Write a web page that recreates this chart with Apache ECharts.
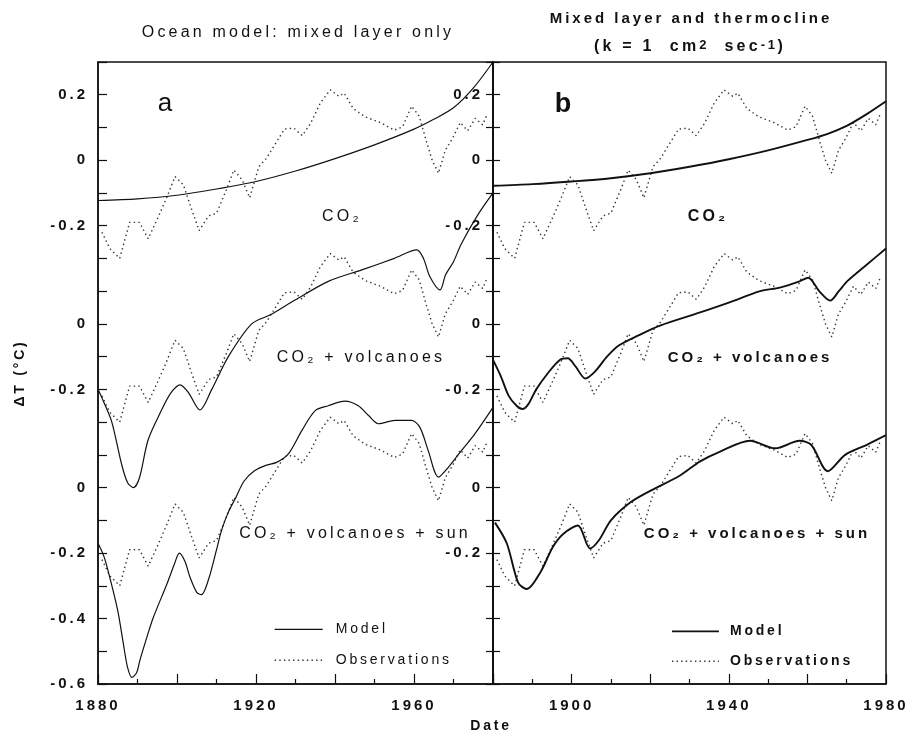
<!DOCTYPE html>
<html><head><meta charset="utf-8">
<script src="https://cdn.jsdelivr.net/npm/echarts@6/dist/echarts.min.js"></script>
<style>html,body{margin:0;padding:0;background:#fff}#c{width:915px;height:736px}</style>
</head><body><div id="c"></div>
<script>
// ---------- DATA (°C) ----------
const obsYears = [1881,1883,1885.5,1888,1890.5,1892.7,1895,1897.2,1899.5,1901.6,1903.7,1905.6,1908,1910,1912.6,1914.4,1916.5,1918.4,1920.7,1922.6,1924.9,1927.2,1929.6,1931.7,1933.8,1936.3,1938.8,1941,1942.3,1944.6,1947.7,1951.5,1955,1957.1,1959.4,1961.3,1963.2,1964.6,1966.2,1967.9,1969.8,1971.7,1973.6,1975.5,1977.4,1978.5];
const obsValues = [-0.22,-0.27,-0.30,-0.19,-0.19,-0.24,-0.18,-0.12,-0.05,-0.075,-0.15,-0.215,-0.17,-0.162,-0.087,-0.03,-0.06,-0.115,-0.02,0.005,0.05,0.095,0.098,0.075,0.112,0.175,0.215,0.195,0.205,0.158,0.132,0.115,0.092,0.102,0.165,0.135,0.055,0.0,-0.04,0.03,0.068,0.115,0.09,0.128,0.108,0.14];

// Panel a: mixed layer only
const co2YearsA = [1880,1890,1900,1910,1920,1930,1940,1950,1960,1965,1970,1975,1980];
const co2ValuesA = [-0.123,-0.118,-0.107,-0.088,-0.065,-0.033,0.005,0.047,0.095,0.125,0.16,0.22,0.30];
const volcYearsA = [1880,1881.5,1883.5,1886,1887.5,1889,1890.5,1892.7,1896.1,1898.5,1900.8,1902.9,1905.8,1908.8,1913,1918.9,1923.5,1929.9,1938.3,1946.8,1955,1960.7,1962.4,1964,1966.6,1968,1970,1972,1976,1980];
const volcValuesA = [-0.20,-0.24,-0.30,-0.43,-0.485,-0.50,-0.47,-0.354,-0.263,-0.21,-0.186,-0.21,-0.263,-0.20,-0.10,0.0,0.027,0.073,0.13,0.165,0.20,0.226,0.20,0.145,0.104,0.15,0.19,0.245,0.33,0.40];
const sunYearsA = [1880,1881.5,1883,1885,1886.4,1887.5,1888.6,1889.8,1890.6,1892.3,1894,1897.5,1899.3,1900.6,1902,1903.3,1905,1906.2,1908,1910,1911.3,1913,1914.7,1917,1919.7,1922.5,1925.2,1928.2,1931.6,1935,1938.3,1942.5,1945.9,1948.5,1951,1955.2,1959.4,1961.5,1963.6,1966.2,1968.7,1972,1975.4,1980];
const sunValuesA = [-0.17,-0.21,-0.275,-0.376,-0.476,-0.55,-0.58,-0.565,-0.528,-0.46,-0.397,-0.293,-0.235,-0.20,-0.225,-0.274,-0.32,-0.327,-0.28,-0.19,-0.13,-0.075,-0.035,0.02,0.052,0.068,0.077,0.103,0.174,0.235,0.25,0.264,0.25,0.22,0.195,0.205,0.205,0.184,0.113,0.032,0.062,0.113,0.164,0.245];

// Panel b: mixed layer and thermocline
const co2YearsB = [1880,1890,1900,1910,1920,1930,1940,1950,1960,1965,1970,1975,1980];
const co2ValuesB = [-0.078,-0.073,-0.065,-0.055,-0.04,-0.02,0.003,0.03,0.062,0.08,0.105,0.14,0.18];
const volcYearsB = [1880,1882,1884,1886,1887.5,1889,1891,1894,1897,1899,1901,1903.5,1906,1909,1912,1917,1922.5,1932.7,1940,1948,1953,1958,1960.2,1963,1965.8,1968,1970.3,1975,1980];
const volcValuesB = [-0.11,-0.16,-0.22,-0.25,-0.26,-0.245,-0.2,-0.15,-0.11,-0.105,-0.13,-0.167,-0.145,-0.1,-0.066,-0.035,-0.005,0.035,0.065,0.10,0.111,0.13,0.141,0.1,0.071,0.1,0.132,0.18,0.23];
const sunYearsB = [1880.5,1883.5,1886.4,1888.6,1892,1895.3,1898,1901.6,1904.7,1907,1910,1915,1920,1927.6,1932.7,1937.8,1945.4,1951.8,1958,1961,1965.2,1969.6,1975,1980];
const sunValuesB = [-0.107,-0.17,-0.29,-0.31,-0.26,-0.18,-0.14,-0.116,-0.186,-0.16,-0.10,-0.045,-0.01,0.037,0.08,0.11,0.143,0.12,0.143,0.13,0.05,0.1,0.13,0.16];

// vertical offsets (°C) of the three stacked curve groups: CO2, CO2+volcanoes, CO2+volcanoes+sun
const panelOffsets = [1.0, 0.5, 0.0];

// tick labels
const xLabelsA = [1880, 1920, 1960];
const xLabelsB = [1900, 1940, 1980];
const yTickValuesA = [1.2, 1.0, 0.8, 0.5, 0.3, 0.0, -0.2, -0.4, -0.6];
const yTickTextA = ['0.2','0','-0.2','0','-0.2','0','-0.2','-0.4','-0.6'];
const yTickValuesB = [1.2, 1.0, 0.8, 0.5, 0.3, 0.0, -0.2];
const yTickTextB = ['0.2','0','-0.2','0','-0.2','0','-0.2'];

// ---------- letter spacing for small print-like text (drawing and measuring) ----------
(function(){
  const P = CanvasRenderingContext2D.prototype;
  if (!('letterSpacing' in P)) return;
  const setLS = ctx => {
    const mm = /(\d+(?:\.\d+)?)px/.exec(ctx.font);
    const s = mm ? parseFloat(mm[1]) : 12;
    ctx.letterSpacing = s <= 17 ? (s*0.2).toFixed(1)+'px' : '0px';
  };
  const of = P.fillText, om = P.measureText;
  P.fillText = function(t,x,y,m){ setLS(this); return m===undefined ? of.call(this,t,x,y) : of.call(this,t,x,y,m); };
  P.measureText = function(t){ setLS(this); return om.call(this,t); };
})();

const FONT = '"Liberation Sans", Arial, sans-serif';
const pairs = (xs, ys, off) => xs.map((x,i)=>[x, Math.round((ys[i]+off)*10000)/10000]);
const lab = (vals, texts) => v => { const i = vals.findIndex(t=>Math.abs(t-v)<1e-6); return i<0 ? '' : texts[i]; };

const black = '#111';
function xAxis(grid, labels){
  return {gridIndex:grid, type:'value', min:1880, max:1980, interval:20, position:'bottom',
    axisLine:{onZero:false,lineStyle:{color:black,width:1.5}},
    axisTick:{inside:true,length:10,lineStyle:{color:black,width:1.2}},
    minorTick:{show:true,splitNumber:2,length:5,lineStyle:{color:black,width:1.2}},
    splitLine:{show:false},
    axisLabel:{showMinLabel:true,showMaxLabel:true,margin:13,fontSize:15,fontWeight:'bold',color:black,fontFamily:FONT,
      formatter:v=>labels.includes(v)?String(v):''}};
}
function yAxis(grid, inside, len, fmt){
  return {gridIndex:grid, type:'value', min:-0.6, max:1.3, interval:0.1, position:'left',
    axisLine:{show:true,onZero:false,lineStyle:{color:black,width:1.5}},
    axisTick:{show:true,inside:inside,length:len,lineStyle:{color:black,width:1.2}},
    splitLine:{show:false},
    axisLabel: fmt ? {show:true,margin:10,fontSize:15,fontWeight:'bold',color:black,fontFamily:FONT,formatter:fmt} : {show:false}};
}

const modelA = {color:black,width:1.2};
const modelB = {color:black,width:1.9};
const obsStyle = {color:'#333',width:1.4,type:[1.4,3.2]};

const series = [];
function addPanel(xi, yi, sets, mStyle){
  sets.forEach((s,k)=>{
    series.push({type:'line',name:'Model',xAxisIndex:xi,yAxisIndex:yi,symbol:'none',smooth:0.3,
      itemStyle:{color:black},lineStyle:mStyle,data:pairs(s[0],s[1],panelOffsets[k]),z:3});
    series.push({type:'line',name:'Observations',xAxisIndex:xi,yAxisIndex:yi,symbol:'none',
      itemStyle:{color:black},lineStyle:obsStyle,data:pairs(obsYears,obsValues,panelOffsets[k]),z:2});
  });
}
addPanel(0,0,[[co2YearsA,co2ValuesA],[volcYearsA,volcValuesA],[sunYearsA,sunValuesA]],modelA);
addPanel(1,1,[[co2YearsB,co2ValuesB],[volcYearsB,volcValuesB],[sunYearsB,sunValuesB]],modelB);

function txt(x,y,text,size,weight,extra){
  return Object.assign({type:'text',x:x,y:y,silent:true,style:{text:text,fill:black,
    font:(weight||'normal')+' '+size+'px '+FONT,align:'center',verticalAlign:'middle',
    textAlign:'center',textVerticalAlign:'middle'}},extra||{});
}

const chart = echarts.init(document.getElementById('c'));
chart.setOption({
  animation:false,
  color:[black],
  backgroundColor:'#fff',
  grid:[
    {left:98,top:62,width:395,height:622,show:true,borderColor:black,borderWidth:1.5,backgroundColor:'transparent'},
    {left:493,top:62,width:393,height:622,show:true,borderColor:black,borderWidth:1.5,backgroundColor:'transparent'}
  ],
  xAxis:[xAxis(0,xLabelsA),xAxis(1,xLabelsB)],
  yAxis:[
    yAxis(0,true,9,lab(yTickValuesA,yTickTextA)),
    yAxis(1,true,7,null),
    yAxis(1,false,7,lab(yTickValuesB,yTickTextB))
  ],
  legend:[
    {orient:'vertical',left:269,top:616,itemWidth:48,itemHeight:14,itemGap:14,selectedMode:false,
     itemStyle:{opacity:0},
     data:[{name:'Model',lineStyle:modelA},{name:'Observations',lineStyle:obsStyle}],
     textStyle:{fontSize:14,color:black,fontFamily:FONT,padding:[0,0,0,8]}},
    {orient:'vertical',left:666,top:618,itemWidth:47,itemHeight:14,itemGap:13,selectedMode:false,
     itemStyle:{opacity:0},
     data:[{name:'Model',lineStyle:modelB},{name:'Observations',lineStyle:obsStyle}],
     textStyle:{fontSize:14,fontWeight:'bold',color:black,fontFamily:FONT,padding:[0,0,0,6]}}
  ],
  series:series,
  graphic:[
    txt(298,33,'Ocean model: mixed layer only',16),
    txt(691,19,'Mixed layer and thermocline',15,'bold'),
    {type:'text',x:690,y:47,silent:true,style:{
      text:'{n|(k = 1  cm}{s|2}{n|  sec}{s|-1}{n|)}',align:'center',verticalAlign:'middle',
      textAlign:'center',textVerticalAlign:'middle',fill:black,
      rich:{n:{fontSize:16,fontWeight:'bold',fontFamily:FONT,fill:black,lineHeight:19},
            s:{fontSize:13,fontWeight:'bold',fontFamily:FONT,fill:black,verticalAlign:'top',lineHeight:13}}}},
    txt(165,104,'a',26),
    txt(563,105,'b',27,'bold'),
    txt(342,217,'CO₂',16),
    txt(708,217,'CO₂',16,'bold'),
    txt(361,358,'CO₂ + volcanoes',16),
    txt(750,358,'CO₂ + volcanoes',15,'bold'),
    txt(355,534,'CO₂ + volcanoes + sun',16),
    txt(757,534,'CO₂ + volcanoes + sun',15,'bold'),
    txt(491,726,'Date',14,'bold'),
    txt(20,373,'ΔT (°C)',14,'bold',{rotation:Math.PI/2})
  ]
});
</script></body></html>
